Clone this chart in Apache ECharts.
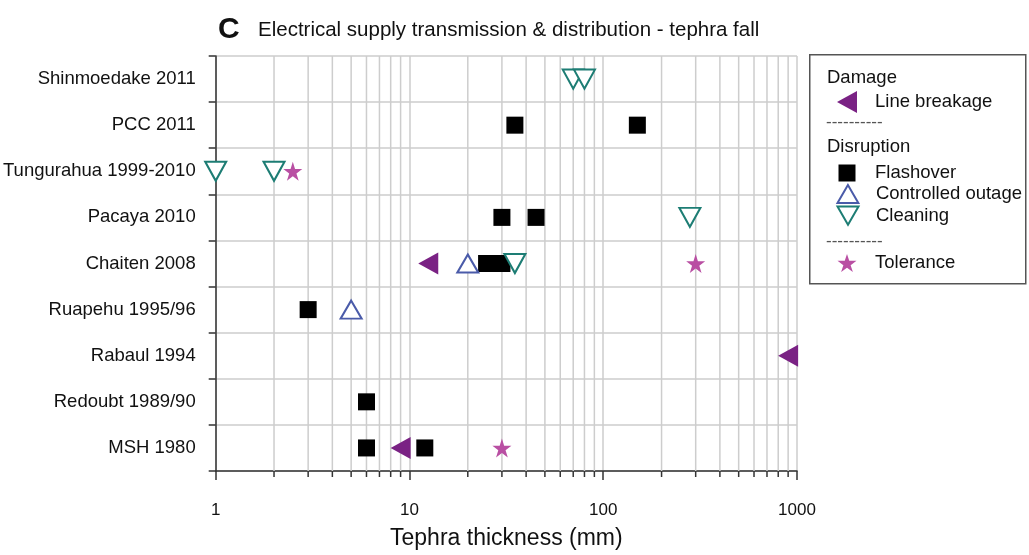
<!DOCTYPE html>
<html>
<head>
<meta charset="utf-8">
<title>Electrical supply transmission & distribution - tephra fall</title>
<script src="https://cdn.jsdelivr.net/npm/echarts@6/dist/echarts.min.js"></script>
<style>
  html, body { margin: 0; padding: 0; background: #ffffff; }
  #chart { width: 1029px; height: 555px; }
</style>
</head>
<body>
<div id="chart"></div>
<script>
// Eruptions, listed bottom to top on the category axis
var eruptions = [
  'MSH 1980',
  'Redoubt 1989/90',
  'Rabaul 1994',
  'Ruapehu 1995/96',
  'Chaiten 2008',
  'Pacaya 2010',
  'Tungurahua 1999-2010',
  'PCC 2011',
  'Shinmoedake 2011'
];

// Tephra thickness (mm) per observation: [thickness, eruption]
var lineBreakage = [[9, 'MSH 1980'], [900, 'Rabaul 1994'], [12.5, 'Chaiten 2008']];
var flashover = [
  [6, 'MSH 1980'], [12, 'MSH 1980'],
  [6, 'Redoubt 1989/90'],
  [3, 'Ruapehu 1995/96'],
  [25, 'Chaiten 2008'], [30, 'Chaiten 2008'],
  [30, 'Pacaya 2010'], [45, 'Pacaya 2010'],
  [35, 'PCC 2011'], [150, 'PCC 2011']
];
var controlledOutage = [[5, 'Ruapehu 1995/96'], [20, 'Chaiten 2008']];
var cleaning = [
  [35, 'Chaiten 2008'],
  [280, 'Pacaya 2010'],
  [1, 'Tungurahua 1999-2010'], [2, 'Tungurahua 1999-2010'],
  [70, 'Shinmoedake 2011'], [80, 'Shinmoedake 2011']
];
var tolerance = [[30, 'MSH 1980'], [300, 'Chaiten 2008'], [2.5, 'Tungurahua 1999-2010']];

// Log-axis minor gridline positions and axis text
var minorTicks = [2, 3, 4, 5, 6, 7, 8, 9, 20, 30, 40, 50, 60, 70, 80, 90, 200, 300, 400, 500, 600, 700, 800, 900];
var titleLetter = 'C';
var titleText = 'Electrical supply transmission & distribution - tephra fall';
var xAxisName = 'Tephra thickness (mm)';

var FONT = '"Liberation Sans", Arial, Helvetica, sans-serif';
var GRID_COLOR = '#cdcdcd';
var AXIS_COLOR = '#333333';

var C_BREAK = '#7a2284';
var C_FLASH = '#000000';
var C_OUTAGE = '#4a5ba9';
var C_CLEAN = '#1d7d74';
var C_TOL = '#b94fa3';

var SYM_LEFT = 'path://M0,11 L20,0 L20,22 Z';
var SYM_DOWN = 'path://M0,0 L22,0 L11,19 Z';
var SYM_UP = 'path://M11,0 L22,19 L0,19 Z';
var SYM_STAR = 'path://M50,0 L61.2,34.5 L97.6,34.5 L68.2,55.9 L79.4,90.5 L50,69.1 L20.6,90.5 L31.8,55.9 L2.4,34.5 L38.8,34.5 Z';

var chart = echarts.init(document.getElementById('chart'), null, { renderer: 'canvas' });

// One legend block per entry: icon centred at x=847, text starting at x=875
function legendAt(name, cy, w, h, itemStyle) {
  var left = 847 - w / 2;
  return {
    show: true,
    data: [name],
    left: left,
    top: cy - h / 2,
    padding: 0,
    orient: 'vertical',
    itemWidth: w,
    itemHeight: h,
    selectedMode: false,
    itemStyle: itemStyle,
    textStyle: { fontFamily: FONT, fontSize: 18.5, color: '#111', padding: [0, 0, 0, 875 - (left + w + 5)] }
  };
}

var option = {
  backgroundColor: '#ffffff',
  animation: false,
  textStyle: { fontFamily: FONT },
  grid: { left: 215, right: 232, top: 56, bottom: 80, containLabel: false },
  xAxis: {
    type: 'log',
    logBase: 10,
    min: 1,
    max: 1000,
    name: xAxisName,
    nameLocation: 'middle',
    nameGap: 56,
    nameTextStyle: { fontFamily: FONT, fontSize: 23, color: '#111' },
    axisLine: { show: true, onZero: false, lineStyle: { color: AXIS_COLOR, width: 1.5 } },
    axisTick: { show: true, length: 9, lineStyle: { color: AXIS_COLOR, width: 1.5 } },
    axisLabel: {
      fontFamily: FONT, fontSize: 17, color: '#111', margin: 31,
      formatter: function (v) { return String(Math.round(v)); }
    },
    splitLine: { show: true, lineStyle: { color: GRID_COLOR, width: 1.5 } },
    minorTick: { show: false },
    minorSplitLine: { show: false }
  },
  yAxis: {
    type: 'category',
    data: eruptions,
    boundaryGap: true,
    axisLine: { show: true, lineStyle: { color: AXIS_COLOR, width: 1.5 } },
    axisTick: { show: true, length: 7, lineStyle: { color: AXIS_COLOR, width: 1.5 } },
    axisLabel: { fontFamily: FONT, fontSize: 18.5, color: '#111', margin: 20 },
    splitLine: { show: true, lineStyle: { color: GRID_COLOR, width: 1.5 } }
  },
  legend: [
    legendAt('Line breakage', 102, 20, 22, { color: C_BREAK }),
    legendAt('Flashover', 172, 17, 17, { color: C_FLASH }),
    legendAt('Controlled outage', 193, 21, 18, { color: '#ffffff', borderColor: C_OUTAGE, borderWidth: 2 }),
    legendAt('Cleaning', 215, 21, 19, { color: '#ffffff', borderColor: C_CLEAN, borderWidth: 2 }),
    legendAt('Tolerance', 263, 19, 19, { color: C_TOL })
  ],
  graphic: [
    {
      type: 'text', left: 218, top: 15, silent: true,
      style: { text: titleLetter, fontFamily: FONT, fontSize: 30, fontWeight: 'bold', fill: '#111' }
    },
    {
      type: 'text', left: 258, top: 20, silent: true,
      style: { text: titleText, fontFamily: FONT, fontSize: 20.5, fill: '#111' }
    },
    {
      type: 'rect', left: 809, top: 54, silent: true, z: -1,
      shape: { width: 216, height: 229 },
      style: { fill: '#ffffff', stroke: '#555555', lineWidth: 1.5 }
    },
    {
      type: 'text', left: 827, top: 68, silent: true,
      style: { text: 'Damage', fontFamily: FONT, fontSize: 18.5, fill: '#111' }
    },
    {
      type: 'text', left: 826, top: 114, silent: true,
      style: { text: '----------', fontFamily: FONT, fontSize: 17, fill: '#555' }
    },
    {
      type: 'text', left: 827, top: 137, silent: true,
      style: { text: 'Disruption', fontFamily: FONT, fontSize: 18.5, fill: '#111' }
    },
    {
      type: 'text', left: 826, top: 233, silent: true,
      style: { text: '----------', fontFamily: FONT, fontSize: 17, fill: '#555' }
    }
  ],
  series: [
    {
      // minor log gridlines with their ticks below the x axis
      type: 'custom',
      silent: true,
      z: 1,
      clip: false,
      data: minorTicks.map(function (v) { return [v, 0]; }),
      encode: { x: 0, y: 1 },
      renderItem: function (params, api) {
        var cs = params.coordSys;
        var x = api.coord([api.value(0), eruptions[0]])[0];
        var bottom = cs.y + cs.height;
        return {
          type: 'group',
          children: [
            { type: 'line', shape: { x1: x, y1: cs.y, x2: x, y2: bottom },
              style: { stroke: GRID_COLOR, lineWidth: 1.5 } },
            { type: 'line', shape: { x1: x, y1: bottom, x2: x, y2: bottom + 6 },
              style: { stroke: AXIS_COLOR, lineWidth: 1.5 } }
          ]
        };
      }
    },
    {
      name: 'Line breakage', type: 'scatter', z: 5, clip: false,
      symbol: SYM_LEFT, symbolSize: [20, 22],
      itemStyle: { color: C_BREAK, opacity: 1 },
      data: lineBreakage
    },
    {
      name: 'Flashover', type: 'scatter', z: 4, clip: false,
      symbol: 'rect', symbolSize: 17,
      itemStyle: { color: C_FLASH, opacity: 1 },
      data: flashover
    },
    {
      name: 'Controlled outage', type: 'scatter', z: 5, clip: false,
      symbol: SYM_UP, symbolSize: [21, 18],
      itemStyle: { color: '#ffffff', borderColor: C_OUTAGE, borderWidth: 2, opacity: 1 },
      data: controlledOutage
    },
    {
      name: 'Cleaning', type: 'scatter', z: 5, clip: false,
      symbol: SYM_DOWN, symbolSize: [21, 19],
      itemStyle: { color: '#ffffff', borderColor: C_CLEAN, borderWidth: 2, opacity: 1 },
      data: cleaning
    },
    {
      name: 'Tolerance', type: 'scatter', z: 5, clip: false,
      symbol: SYM_STAR, symbolSize: 19,
      itemStyle: { color: C_TOL, opacity: 1 },
      data: tolerance
    }
  ]
};

chart.setOption(option);
</script>
</body>
</html>
